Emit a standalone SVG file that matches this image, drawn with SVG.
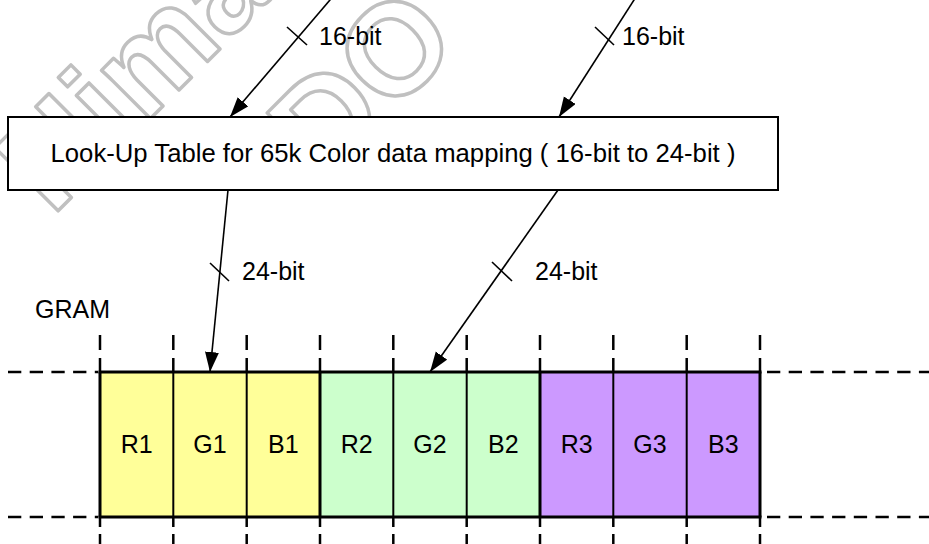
<svg xmlns="http://www.w3.org/2000/svg" width="929" height="544" viewBox="0 0 929 544">
<defs>
<marker id="ah" markerUnits="userSpaceOnUse" markerWidth="22" markerHeight="16" refX="20" refY="7" orient="auto">
<path d="M0,0 L20,7 L0,14 Z" fill="#000"/>
</marker>
<style>
.t{font-family:"Liberation Sans",Arial,sans-serif;font-size:25px;fill:#000}
.wm{font-family:"Liberation Sans",Arial,sans-serif;font-weight:bold;font-size:130px;fill:none;stroke:#c0c0c0;stroke-width:3.5;stroke-linejoin:round}
.conn{stroke:#000;stroke-width:1.6;fill:none}
.tick{stroke:#000;stroke-width:1.6}
.dash{stroke:#000;stroke-width:2.5;fill:none}
.thin{stroke:#000;stroke-width:2}
.thick{stroke:#000;stroke-width:3}
</style>
</defs>
<rect width="929" height="544" fill="#fff"/>
<g id="watermark" transform="translate(52,217) rotate(-45)">
<text class="wm" x="0" y="0">Himax</text>
<text class="wm" x="217" y="168">DO</text>
</g>
<g id="lut">
<rect x="8" y="117" width="770" height="73" fill="#fff" stroke="#000" stroke-width="2"/>
<text class="t" x="393" y="162" text-anchor="middle" style="font-size:25.7px">Look-Up Table for 65k Color data mapping ( 16-bit to 24-bit )</text>
</g>
<g id="gram">
<text class="t" x="35" y="318">GRAM</text>
<rect x="100" y="372" width="220" height="145" fill="#ffff99"/>
<rect x="320" y="372" width="220" height="145" fill="#ccffcc"/>
<rect x="540" y="372" width="220" height="145" fill="#cc99ff"/>
<g class="thin">
<line x1="173.3" y1="372" x2="173.3" y2="517"/>
<line x1="246.7" y1="372" x2="246.7" y2="517"/>
<line x1="393.3" y1="372" x2="393.3" y2="517"/>
<line x1="466.7" y1="372" x2="466.7" y2="517"/>
<line x1="613.3" y1="372" x2="613.3" y2="517"/>
<line x1="686.7" y1="372" x2="686.7" y2="517"/>
</g>
<g class="thick">
<line x1="100" y1="372" x2="100" y2="517"/>
<line x1="320" y1="372" x2="320" y2="517"/>
<line x1="540" y1="372" x2="540" y2="517"/>
<line x1="760" y1="372" x2="760" y2="517"/>
<line x1="98.5" y1="372" x2="761.5" y2="372"/>
<line x1="98.5" y1="517" x2="761.5" y2="517"/>
</g>
<g class="dash" stroke-dasharray="13.3 8.4">
<line x1="8" y1="372" x2="98" y2="372"/>
<line x1="8" y1="517" x2="98" y2="517"/>
<line x1="767" y1="372" x2="929" y2="372"/>
<line x1="767" y1="517" x2="929" y2="517"/>
</g>
<g class="dash" stroke-dasharray="15 8">
<line x1="100" y1="335" x2="100" y2="372"/>
<line x1="173.3" y1="335" x2="173.3" y2="372"/>
<line x1="246.7" y1="335" x2="246.7" y2="372"/>
<line x1="320" y1="335" x2="320" y2="372"/>
<line x1="393.3" y1="335" x2="393.3" y2="372"/>
<line x1="466.7" y1="335" x2="466.7" y2="372"/>
<line x1="540" y1="335" x2="540" y2="372"/>
<line x1="613.3" y1="335" x2="613.3" y2="372"/>
<line x1="686.7" y1="335" x2="686.7" y2="372"/>
<line x1="760" y1="335" x2="760" y2="372"/>
</g>
<g class="dash" stroke-dasharray="10 7">
<line x1="100" y1="517" x2="100" y2="544"/>
<line x1="173.3" y1="517" x2="173.3" y2="544"/>
<line x1="246.7" y1="517" x2="246.7" y2="544"/>
<line x1="320" y1="517" x2="320" y2="544"/>
<line x1="393.3" y1="517" x2="393.3" y2="544"/>
<line x1="466.7" y1="517" x2="466.7" y2="544"/>
<line x1="540" y1="517" x2="540" y2="544"/>
<line x1="613.3" y1="517" x2="613.3" y2="544"/>
<line x1="686.7" y1="517" x2="686.7" y2="544"/>
<line x1="760" y1="517" x2="760" y2="544"/>
</g>
</g>
<g id="cells" class="t" text-anchor="middle">
<text x="136.7" y="453">R1</text>
<text x="210" y="453">G1</text>
<text x="283.3" y="453">B1</text>
<text x="356.7" y="453">R2</text>
<text x="430" y="453">G2</text>
<text x="503.3" y="453">B2</text>
<text x="576.7" y="453">R3</text>
<text x="650" y="453">G3</text>
<text x="723.3" y="453">B3</text>
</g>
<g id="connectors">
<line class="conn" x1="338.5" y1="-10" x2="230" y2="117" marker-end="url(#ah)"/>
<line class="conn" x1="640.4" y1="-10" x2="559" y2="117" marker-end="url(#ah)"/>
<line class="conn" x1="228" y1="190" x2="210" y2="372" marker-end="url(#ah)"/>
<line class="conn" x1="558" y1="190" x2="430" y2="372" marker-end="url(#ah)"/>
<line class="tick" x1="287" y1="27" x2="307" y2="45"/>
<line class="tick" x1="595" y1="27" x2="614" y2="45"/>
<line class="tick" x1="210" y1="263" x2="229" y2="281"/>
<line class="tick" x1="492" y1="262" x2="512" y2="281"/>
<text class="t" x="319" y="45">16-bit</text>
<text class="t" x="622" y="45">16-bit</text>
<text class="t" x="242" y="280">24-bit</text>
<text class="t" x="535" y="280">24-bit</text>
</g>
</svg>
